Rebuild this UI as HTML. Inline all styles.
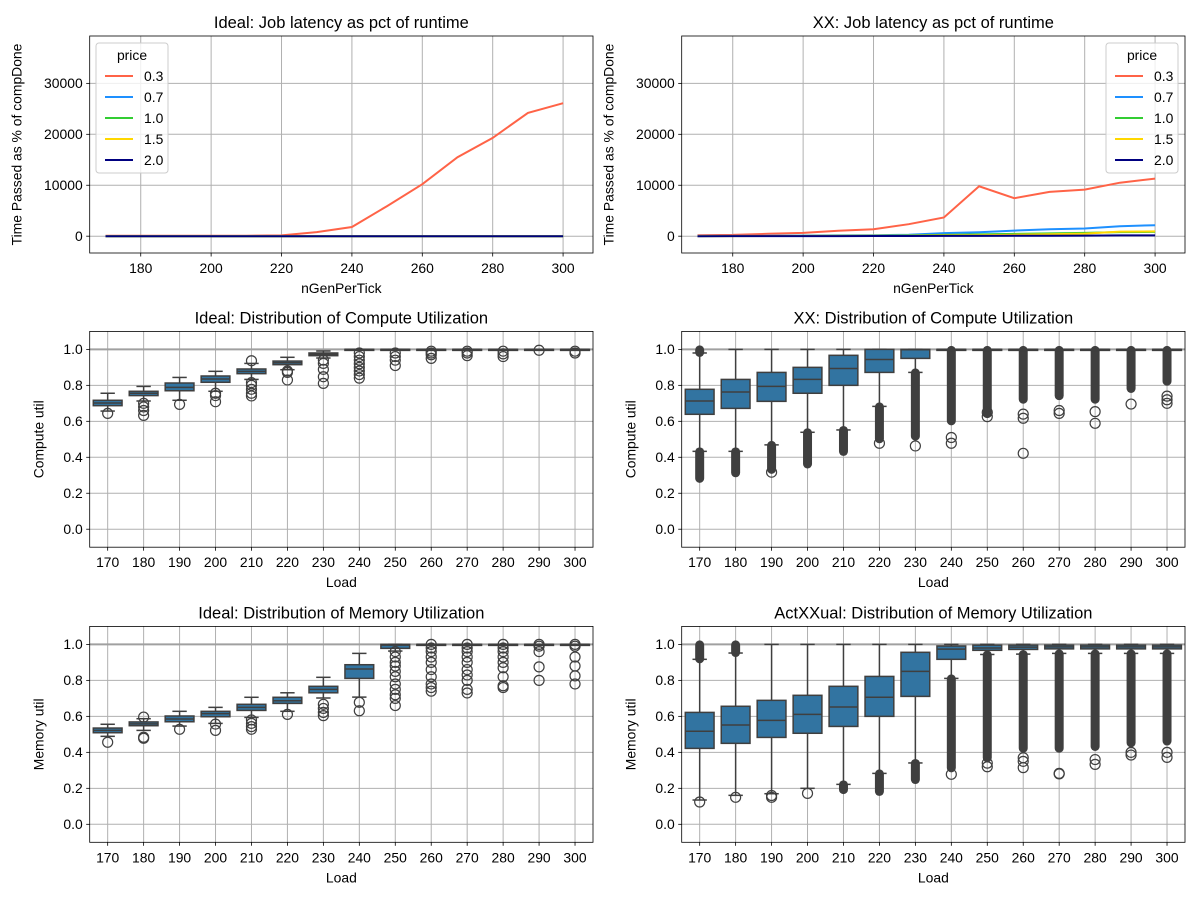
<!DOCTYPE html>
<html><head><meta charset="utf-8"><style>
body{margin:0;background:#fff}
svg text{font-family:"Liberation Sans","DejaVu Sans",sans-serif;fill:#000}
</style></head><body>
<svg id="fig" width="1200" height="900" viewBox="0 0 1200 900" xmlns="http://www.w3.org/2000/svg"></svg>
<script>
// ---- Line chart data ----
const gens = [170,180,190,200,210,220,230,240,250,260,270,280,290,300];
const prices = ['0.3','0.7','1.0','1.5','2.0'];
const priceColors = ['#ff6347','#1e90ff','#32cd32','#ffd700','#000080'];
const ideal03 = [100,100,100,100,100,150,800,1800,5900,10200,15500,19300,24200,26100];
const ideal07 = [0,0,0,0,0,0,0,0,0,0,0,0,0,0];
const ideal10 = [0,0,0,0,0,0,0,0,0,0,0,0,0,0];
const ideal15 = [0,0,0,0,0,0,0,0,0,0,0,0,0,0];
const ideal20 = [0,0,0,0,0,0,0,0,0,0,0,0,0,0];
const xx03 = [200,260,460,650,1050,1370,2350,3660,9800,7450,8700,9150,10500,11300];
const xx07 = [50,60,80,120,150,200,300,600,780,1100,1370,1500,1960,2150];
const xx10 = [20,30,40,60,80,100,150,250,350,450,550,650,800,850];
const xx15 = [10,20,30,40,50,70,100,150,200,300,400,500,900,950];
const xx20 = [0,10,10,20,20,30,40,50,60,80,100,110,150,160];
const yTicksTop = [0,10000,20000,30000];
const xTicksTop = [180,200,220,240,260,280,300];

// ---- Box plot data: [q1, median, q3, whiskerLow, whiskerHigh] ----
const loads = ['170','180','190','200','210','220','230','240','250','260','270','280','290','300'];
const yTicksBox = [0.0,0.2,0.4,0.6,0.8,1.0];
const idealCompQ1 = [0.687,0.743,0.770,0.817,0.865,0.915,0.965,0.998,0.999,0.999,0.999,0.999,0.999,0.999];
const idealCompMed = [0.702,0.756,0.789,0.835,0.878,0.926,0.973,1.0,1.0,1.0,1.0,1.0,1.0,1.0];
const idealCompQ3 = [0.717,0.767,0.813,0.852,0.891,0.935,0.980,1.0,1.0,1.0,1.0,1.0,1.0,1.0];
const idealCompLo = [0.657,0.713,0.717,0.767,0.833,0.887,0.952,0.997,0.998,0.998,0.998,0.998,0.998,0.998];
const idealCompHi = [0.756,0.794,0.844,0.878,0.922,0.956,0.991,1.0,1.0,1.0,1.0,1.0,1.0,1.0];
const idealCompOut = [[0.644],[0.70,0.68,0.66,0.633],[0.694],[0.756,0.743,0.709],[0.937,0.815,0.80,0.778,0.756,0.741],[0.88,0.872,0.83],[0.94,0.922,0.889,0.848,0.811],[0.98,0.96,0.94,0.92,0.90,0.88,0.86,0.84],[0.98,0.96,0.94,0.91],[0.99,0.98,0.97,0.95],[0.99,0.98,0.965],[0.99,0.975,0.96],[0.995],[0.99,0.98]];

const xxCompQ1 = [0.639,0.672,0.711,0.756,0.800,0.872,0.950,0.998,0.998,0.998,0.998,0.998,0.998,0.998];
const xxCompMed = [0.713,0.763,0.794,0.833,0.894,0.944,0.998,1.0,1.0,1.0,1.0,1.0,1.0,1.0];
const xxCompQ3 = [0.778,0.833,0.872,0.900,0.967,1.0,1.0,1.0,1.0,1.0,1.0,1.0,1.0,1.0];
const xxCompLo = [0.433,0.433,0.469,0.539,0.552,0.683,0.872,0.997,0.997,0.997,0.997,0.997,0.997,0.997];
const xxCompHi = [0.98,1.0,1.0,1.0,1.0,1.0,1.0,1.0,1.0,1.0,1.0,1.0,1.0,1.0];
const xxCompDenseLow = [[0.28,0.433],[0.311,0.433],[0.33,0.469],[0.36,0.539],[0.43,0.552],[0.50,0.683],[0.515,0.872],[0.60,0.997],[0.64,0.997],[0.72,0.997],[0.74,0.997],[0.72,0.997],[0.78,0.997],[0.82,0.997]];
const xxCompDenseHigh = [[0.98,1.0],[],[],[],[],[],[],[],[],[],[],[],[],[]];
const xxCompOut = [[],[],[0.317],[],[],[0.478],[0.463],[0.478,0.51],[0.626,0.65],[0.617,0.64,0.422],[0.644,0.66],[0.654,0.589],[0.696],[0.70,0.72,0.74]];

const idealMemQ1 = [0.509,0.548,0.570,0.598,0.633,0.672,0.731,0.811,0.978,0.998,0.998,0.998,0.998,0.998];
const idealMemMed = [0.522,0.558,0.585,0.615,0.650,0.687,0.750,0.863,0.996,1.0,1.0,1.0,1.0,1.0];
const idealMemQ3 = [0.535,0.569,0.602,0.628,0.667,0.706,0.767,0.887,1.0,1.0,1.0,1.0,1.0,1.0];
const idealMemLo = [0.489,0.522,0.546,0.561,0.594,0.628,0.702,0.707,0.963,0.997,0.997,0.997,0.997,0.997];
const idealMemHi = [0.556,0.587,0.628,0.650,0.706,0.731,0.817,0.950,1.0,1.0,1.0,1.0,1.0,1.0];
const idealMemOut = [[0.456],[0.596,0.484,0.478],[0.528],[0.557,0.522],[0.58,0.561,0.543,0.528],[0.611],[0.667,0.644,0.622,0.604],[0.678,0.631],[0.96,0.93,0.90,0.88,0.85,0.82,0.78,0.75,0.72,0.70,0.66],[1.0,0.98,0.96,0.93,0.90,0.86,0.82,0.78,0.76,0.74],[1.0,0.98,0.96,0.93,0.90,0.86,0.83,0.80,0.75,0.73],[1.0,0.98,0.96,0.93,0.90,0.87,0.82,0.77,0.76],[1.0,0.99,0.96,0.875,0.80],[1.0,0.99,0.93,0.88,0.825,0.78]];

const xxMemQ1 = [0.422,0.450,0.483,0.506,0.544,0.600,0.711,0.917,0.967,0.972,0.975,0.975,0.975,0.975];
const xxMemMed = [0.517,0.552,0.578,0.611,0.652,0.706,0.850,0.974,0.980,0.985,0.986,0.986,0.986,0.986];
const xxMemQ3 = [0.622,0.656,0.689,0.717,0.767,0.822,0.956,0.991,0.996,0.996,0.996,0.996,0.996,0.996];
const xxMemLo = [0.135,0.161,0.170,0.200,0.222,0.283,0.341,0.811,0.944,0.946,0.950,0.950,0.950,0.950];
const xxMemHi = [0.917,0.952,1.0,1.0,1.0,1.0,1.0,1.0,1.0,1.0,1.0,1.0,1.0,1.0];
const xxMemDenseLow = [[],[],[],[],[0.19,0.222],[0.18,0.283],[0.246,0.341],[0.311,0.811],[0.367,0.944],[0.42,0.946],[0.42,0.950],[0.43,0.950],[0.45,0.950],[0.46,0.950]];
const xxMemDenseHigh = [[0.917,1.0],[0.952,1.0],[],[],[],[],[],[],[],[],[],[],[],[]];
const xxMemOut = [[0.124],[0.15],[0.16,0.15],[0.172],[],[],[],[0.278],[0.32,0.34],[0.315,0.35,0.37],[0.283,0.28],[0.333,0.36],[0.385,0.40],[0.372,0.40]];

// ---- drawing helpers ----
const NS='http://www.w3.org/2000/svg';
const fig=document.getElementById('fig');
function mk(tag,attrs,parent,text){const e=document.createElementNS(NS,tag);for(const k in attrs)e.setAttribute(k,attrs[k]);if(text!==undefined)e.textContent=text;(parent||fig).appendChild(e);return e;}

function panel(name,x0,x1,y0,y1,ylim,title,xlabel,ylabel,ylabX){
  const g=mk('g',{});
  
  
  const sy=v=>y1-(v-ylim[0])/(ylim[1]-ylim[0])*(y1-y0);
  const t=mk('text',{x:(x0+x1)/2,y:y0-8,'text-anchor':'middle','font-size':'16.5'},g,title);
  
  
  const xl=mk('text',{x:(x0+x1)/2,y:y1+40,'text-anchor':'middle','font-size':'13.9'},g,xlabel);
  
  
  const yl=mk('text',{x:ylabX,y:(y0+y1)/2,'text-anchor':'middle','font-size':'13.9',transform:`rotate(-90 ${ylabX} ${(y0+y1)/2})`},g,ylabel);
  
  
  return {g,sy};
}
function yAxis(p,x0,x1,ticks,fmt){
  ticks.forEach(v=>{const y=p.sy(v);
    mk('line',{x1:x0,x2:x1,y1:y,y2:y,stroke:'#b0b0b0','stroke-width':1},p.g);
    mk('line',{x1:x0-3.5,x2:x0,y1:y,y2:y,stroke:'#000','stroke-width':0.8},p.g);
    const t=mk('text',{x:x0-7,y:y+4.8,'text-anchor':'end','font-size':'13.9'},p.g,fmt(v));
    
    
  });
}
function xTick(p,x,y0,y1,label){
  mk('line',{x1:x,x2:x,y1:y0,y2:y1,stroke:'#b0b0b0','stroke-width':1},p.g);
  mk('line',{x1:x,x2:x,y1:y1,y2:y1+3.5,stroke:'#000','stroke-width':0.8},p.g);
  const t=mk('text',{x:x,y:y1+20,'text-anchor':'middle','font-size':'13.9'},p.g,label);
  
  
}
function frame(p,x0,x1,y0,y1){mk('rect',{x:x0,y:y0,width:x1-x0,height:y1-y0,fill:'none',stroke:'#000','stroke-width':0.8},p.g);}

function linePanel(name,x0,title,series,legendX){
  const x1=x0+503.3,y0=36,y1=253;
  const ylim=[-3300,39300],xlim=[165.5,308.5];
  const p=panel(name,x0,x1,y0,y1,ylim,title,'nGenPerTick','Time Passed as % of compDone',x0-68);
  const sx=v=>x0+(v-xlim[0])/(xlim[1]-xlim[0])*(x1-x0);
  yAxis(p,x0,x1,yTicksTop,v=>String(v));
  xTicksTop.forEach(v=>xTick(p,sx(v),y0,y1,String(v)));
  series.forEach((s,k)=>{
    const pts=gens.map((gv,i)=>sx(gv).toFixed(1)+','+p.sy(s[i]).toFixed(1)).join(' ');
    const l=mk('polyline',{points:pts,fill:'none',stroke:priceColors[k],'stroke-width':2},p.g);
    
    
  });
  frame(p,x0,x1,y0,y1);
  // legend
  const lg=mk('g',{},p.g);
  
  
  mk('rect',{x:legendX,y:43,width:72,height:130,rx:3,fill:'#fff','fill-opacity':0.8,stroke:'#ccc'},lg);
  mk('text',{x:legendX+36,y:60,'text-anchor':'middle','font-size':'13.9'},lg,'price');
  prices.forEach((pr,k)=>{const y=76+k*21;
    const e=mk('g',{},lg);
    
    
    mk('line',{x1:legendX+9,x2:legendX+37,y1:y,y2:y,stroke:priceColors[k],'stroke-width':2},e);
    mk('text',{x:legendX+48,y:y+5,'font-size':'13.9'},e,pr);
  });
}

function boxPanel(name,x0,y0,y1,title,ylabel,Q1,MED,Q3,LO,HI,OUT,DLOW,DHIGH){
  const x1=x0+503.3,ylim=[-0.1,1.1];
  const p=panel(name,x0,x1,y0,y1,ylim,title,'Load',ylabel,x0-46);
  const bw=(x1-x0)/loads.length;
  const cx=i=>x0+(i+0.5)*bw;
  yAxis(p,x0,x1,yTicksBox,v=>v.toFixed(1));
  loads.forEach((l,i)=>xTick(p,cx(i),y0,y1,l));
  mk('line',{x1:x0,x2:x1,y1:p.sy(1),y2:p.sy(1),stroke:'#a0a0a0','stroke-width':2},p.g);
  const dark='#3f3f3f';
  loads.forEach((l,i)=>{
    const c=cx(i),hw=bw*0.4;
    const g=mk('g',{},p.g);
    
    
    const ranges=[];
    if(DLOW&&DLOW[i].length)ranges.push(DLOW[i]);
    if(DHIGH&&DHIGH[i].length)ranges.push(DHIGH[i]);
    ranges.forEach(r=>{
      const ya=p.sy(r[1]),yb=p.sy(r[0]);
      mk('rect',{x:c-4.5,y:ya-4,width:9,height:yb-ya+8,rx:4.5,fill:dark},g);
    });
    mk('line',{x1:c,x2:c,y1:p.sy(HI[i]),y2:p.sy(Q3[i]),stroke:dark,'stroke-width':1.5},g);
    mk('line',{x1:c,x2:c,y1:p.sy(Q1[i]),y2:p.sy(LO[i]),stroke:dark,'stroke-width':1.5},g);
    mk('line',{x1:c-hw/2,x2:c+hw/2,y1:p.sy(HI[i]),y2:p.sy(HI[i]),stroke:dark,'stroke-width':1.5},g);
    mk('line',{x1:c-hw/2,x2:c+hw/2,y1:p.sy(LO[i]),y2:p.sy(LO[i]),stroke:dark,'stroke-width':1.5},g);
    const yt=p.sy(Q3[i]),yb=p.sy(Q1[i]);
    mk('rect',{x:c-hw,y:yt,width:2*hw,height:Math.max(yb-yt,1),fill:'#3274a1',stroke:dark,'stroke-width':1.5},g);
    mk('line',{x1:c-hw,x2:c+hw,y1:p.sy(MED[i]),y2:p.sy(MED[i]),stroke:dark,'stroke-width':1.5},g);
    OUT[i].forEach(v=>{mk('circle',{cx:c,cy:p.sy(v),r:5,fill:'none',stroke:dark,'stroke-width':1.2},g);});
  });
  frame(p,x0,x1,y0,y1);
}

linePanel('ideal-latency-chart',89.7,'Ideal: Job latency as pct of runtime',[ideal03,ideal07,ideal10,ideal15,ideal20],96);
linePanel('xx-latency-chart',681.7,'XX: Job latency as pct of runtime',[xx03,xx07,xx10,xx15,xx20],1106);
boxPanel('ideal-compute-chart',89.7,331.4,547.2,'Ideal: Distribution of Compute Utilization','Compute util',idealCompQ1,idealCompMed,idealCompQ3,idealCompLo,idealCompHi,idealCompOut,null,null);
boxPanel('xx-compute-chart',681.7,331.4,547.2,'XX: Distribution of Compute Utilization','Compute util',xxCompQ1,xxCompMed,xxCompQ3,xxCompLo,xxCompHi,xxCompOut,xxCompDenseLow,xxCompDenseHigh);
boxPanel('ideal-memory-chart',89.7,626.4,842.3,'Ideal: Distribution of Memory Utilization','Memory util',idealMemQ1,idealMemMed,idealMemQ3,idealMemLo,idealMemHi,idealMemOut,null,null);
boxPanel('xx-memory-chart',681.7,626.4,842.3,'ActXXual: Distribution of Memory Utilization','Memory util',xxMemQ1,xxMemMed,xxMemQ3,xxMemLo,xxMemHi,xxMemOut,xxMemDenseLow,xxMemDenseHigh);
</script>
</body></html>
